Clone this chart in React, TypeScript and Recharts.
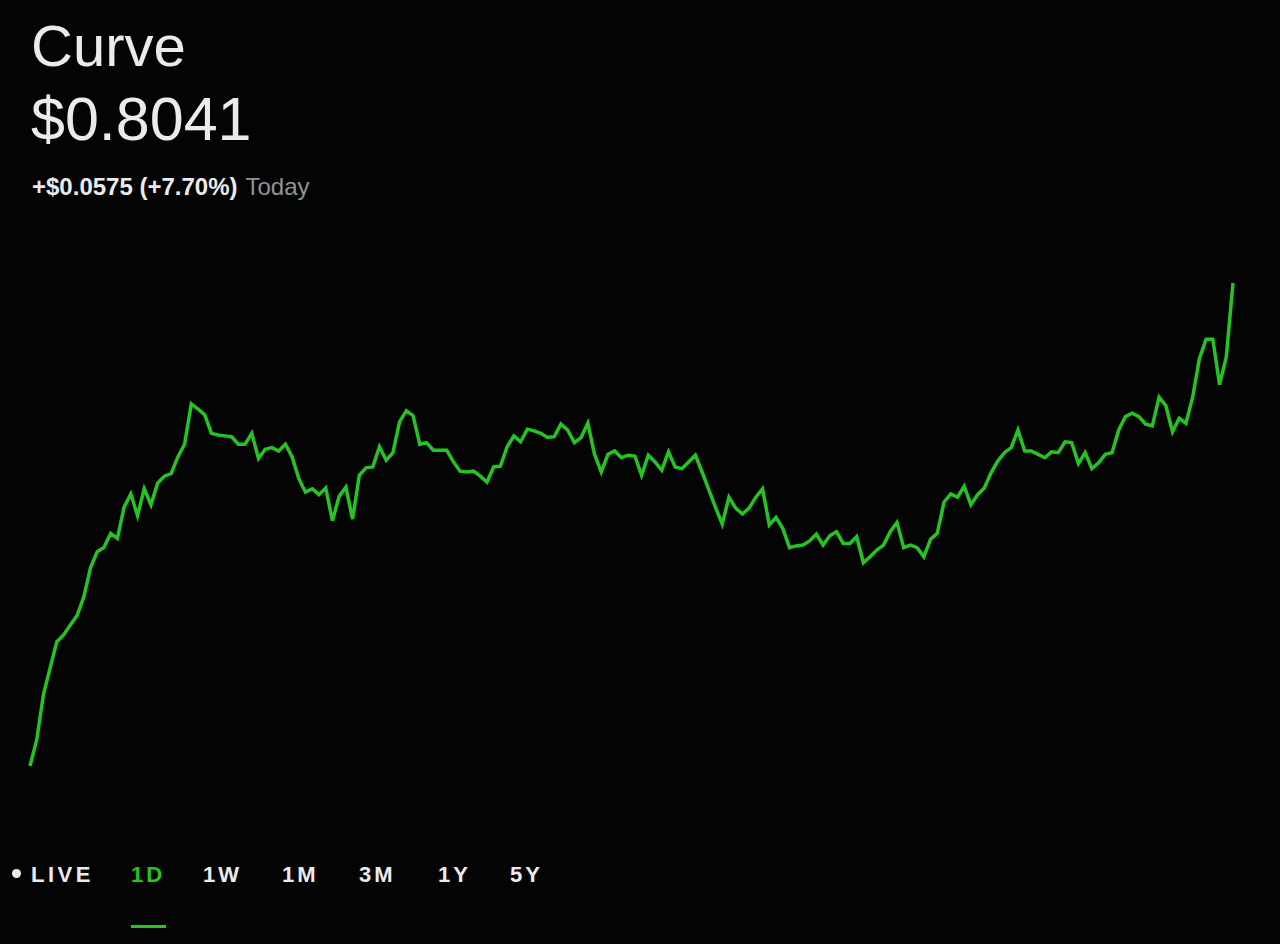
import { LineChart, Line, XAxis, YAxis } from 'recharts';

// 1D price samples (USD) left to right
const prices = [
  0.7466, 0.7497, 0.7551, 0.7583, 0.7614, 0.7622, 0.7634, 0.7645, 0.7667, 0.7702,
  0.7721, 0.7726, 0.7743, 0.7737, 0.7774, 0.7790, 0.7764, 0.7796, 0.7777, 0.7803,
  0.7811, 0.7814, 0.7834, 0.7849, 0.7897, 0.7891, 0.7884, 0.7862, 0.7860, 0.7859,
  0.7858, 0.7849, 0.7849, 0.7862, 0.7832, 0.7843, 0.7845, 0.7841, 0.7849, 0.7834,
  0.7808, 0.7792, 0.7796, 0.7789, 0.7797, 0.7758, 0.7787, 0.7798, 0.7760, 0.7812,
  0.7821, 0.7822, 0.7846, 0.7830, 0.7839, 0.7876, 0.7889, 0.7883, 0.7849, 0.7851,
  0.7842, 0.7842, 0.7842, 0.7828, 0.7817, 0.7816, 0.7817, 0.7811, 0.7804, 0.7822,
  0.7823, 0.7846, 0.7859, 0.7852, 0.7867, 0.7865, 0.7862, 0.7857, 0.7858, 0.7873,
  0.7866, 0.7851, 0.7857, 0.7874, 0.7837, 0.7816, 0.7837, 0.7841, 0.7833, 0.7836,
  0.7835, 0.7812, 0.7836, 0.7828, 0.7818, 0.7840, 0.7822, 0.7820, 0.7828, 0.7836,
  0.7816, 0.7795, 0.7774, 0.7754, 0.7786, 0.7773, 0.7766, 0.7773, 0.7786, 0.7796,
  0.7753, 0.7762, 0.7749, 0.7726, 0.7728, 0.7729, 0.7734, 0.7742, 0.7729, 0.7740,
  0.7745, 0.7731, 0.7731, 0.7739, 0.7708, 0.7715, 0.7723, 0.7729, 0.7745, 0.7756,
  0.7726, 0.7729, 0.7726, 0.7715, 0.7736, 0.7743, 0.7780, 0.7790, 0.7786, 0.7799,
  0.7777, 0.7789, 0.7797, 0.7815, 0.7829, 0.7839, 0.7845, 0.7866, 0.7841, 0.7841,
  0.7837, 0.7833, 0.7840, 0.7839, 0.7852, 0.7851, 0.7826, 0.7839, 0.7820, 0.7827,
  0.7837, 0.7839, 0.7866, 0.7882, 0.7886, 0.7882, 0.7873, 0.7871, 0.7905, 0.7895,
  0.7864, 0.7880, 0.7874, 0.7905, 0.7951, 0.7974, 0.7974, 0.7920, 0.7953, 0.8041,
];

const assetName = 'Curve';
const lastPrice = '$0.8041';
const changeText = '+$0.0575 (+7.70%)';
const changeLabel = 'Today';
const ranges = ['1D', '1W', '1M', '3M', '1Y', '5Y'];
const rangeX = [131, 203, 282, 359, 438, 510];
const activeRange = '1D';

const GREEN = '#25c423';
const TEXT = '#ebebeb';
const FONT = '"Liberation Sans", Arial, sans-serif';

const data = prices.map((p, i) => ({ t: i, price: p }));

export default function App() {
  return (
    <div style={{ position: 'absolute', left: 0, top: 0, width: 1280, height: 944, background: '#040404', overflow: 'hidden', fontFamily: FONT }}>
      <div style={{ position: 'absolute', left: 31, top: 17, fontSize: 58, lineHeight: '58px', color: TEXT }}>{assetName}</div>
      <div style={{ position: 'absolute', left: 31, top: 89, fontSize: 61, lineHeight: '61px', color: TEXT }}>{lastPrice}</div>
      <div style={{ position: 'absolute', left: 32, top: 175, fontSize: 24, lineHeight: '24px', whiteSpace: 'nowrap' }}>
        <span style={{ color: TEXT, fontWeight: 700 }}>{changeText}</span>
        <span style={{ color: '#8c9599', marginLeft: 8 }}>{changeLabel}</span>
      </div>

      <div style={{ position: 'absolute', left: 0, top: 0 }}>
        <LineChart width={1280} height={944} data={data} margin={{ top: 283, right: 47, bottom: 178, left: 30 }}>
          <XAxis dataKey="t" hide />
          <YAxis hide domain={[0.7466, 0.8041]} />
          <Line type="linear" dataKey="price" stroke={GREEN} strokeWidth={3.5} dot={false} isAnimationActive={false} />
        </LineChart>
      </div>

      {/* range selector */}
      <div style={{ position: 'absolute', left: 12, top: 869, width: 9, height: 9, borderRadius: '50%', background: TEXT }} />
      <div style={{ position: 'absolute', left: 31, top: 864, fontSize: 22, lineHeight: '22px', fontWeight: 700, letterSpacing: 3.5, color: TEXT }}>LIVE</div>
      {ranges.map((r, i) => (
        <div key={r} style={{ position: 'absolute', left: rangeX[i], top: 864, fontSize: 22, lineHeight: '22px', fontWeight: 700, letterSpacing: 3, color: r === activeRange ? GREEN : TEXT }}>{r}</div>
      ))}
      <div style={{ position: 'absolute', left: 131, top: 925, width: 35, height: 3, background: GREEN }} />
    </div>
  );
}
